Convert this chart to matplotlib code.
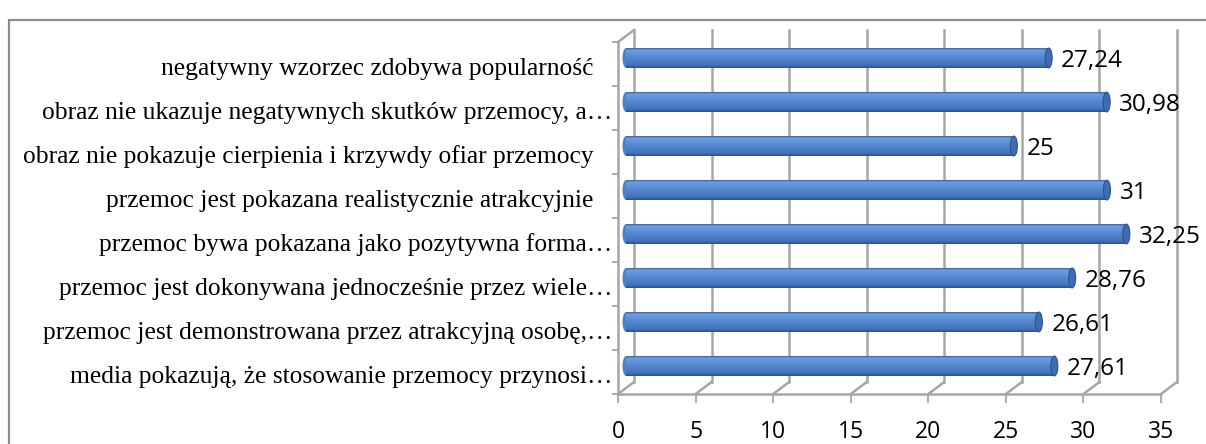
import numpy as np
import matplotlib
matplotlib.use('Agg')
import matplotlib.pyplot as plt
from matplotlib.patches import Ellipse, Rectangle
from matplotlib.colors import LinearSegmentedColormap

# kategorie od góry do dołu
kategorie = [
    'negatywny wzorzec zdobywa popularność   ',
    'obraz nie ukazuje negatywnych skutków przemocy, a…',
    'obraz nie pokazuje cierpienia i krzywdy ofiar przemocy   ',
    'przemoc jest pokazana realistycznie atrakcyjnie   ',
    'przemoc bywa pokazana jako pozytywna forma…',
    'przemoc jest dokonywana jednocześnie przez wiele…',
    'przemoc jest demonstrowana przez atrakcyjną osobę,…',
    'media pokazują, że stosowanie przemocy przynosi…',
]
wartosci = [27.24, 30.98, 25, 31, 32.25, 28.76, 26.61, 27.61]
os_x = [0, 5, 10, 15, 20, 25, 30, 35]

W, H = 1206, 444
fig = plt.figure(figsize=(W / 100, H / 100), dpi=100)
ax = fig.add_axes([618 / W, (H - 394) / H, (1161 - 618) / W, (394 - 42) / H])

n = len(kategorie)
y = np.arange(n)[::-1]
ax.set_xlim(0, 35)
ax.set_ylim(-0.5, n - 0.5)

# piksele -> jednostki danych
px_x = 35 / (1161 - 618)
px_y = n / (394 - 42)

siatka = '#a6a6a6'
lw = 1.8

# tylna ściana - linie siatki
dx, dy = 16 * px_x, 12 * px_y
for v in os_x:
    ax.plot([v + dx, v + dx], [-0.5 + dy, n - 0.5 + dy], color=siatka, lw=lw, clip_on=False, zorder=1)
    ax.plot([v, v + dx], [-0.5, -0.5 + dy], color=siatka, lw=lw, clip_on=False, zorder=1)
# podłoga i lewa ściana
ax.plot([0, 35], [-0.5, -0.5], color=siatka, lw=lw, clip_on=False, zorder=1)
ax.plot([0, 0], [-0.5, n - 0.5], color=siatka, lw=lw, clip_on=False, zorder=1)
ax.plot([0, dx], [n - 0.5, n - 0.5 + dy], color=siatka, lw=lw, clip_on=False, zorder=1)

for s in ax.spines.values():
    s.set_visible(False)

ax.set_xticks(os_x)
ax.set_xticklabels([str(v) for v in os_x])
ax.tick_params(axis='x', length=6.5, width=1.3, color=siatka, labelsize=16.5, pad=12)
for t in ax.get_xticklabels():
    t.set_fontfamily('Open Sans')

ax.set_yticks([])
ax.set_yticks(np.arange(-0.5, n, 1), minor=True)
ax.tick_params(axis='y', which='minor', length=4.5, width=1.3, color=siatka)
for k, yy in zip(kategorie, y):
    ax.annotate(k, (0, yy), xytext=(-4, -3.5), textcoords='offset points', ha='right', va='center',
                fontsize=18.4, fontfamily='Liberation Serif', annotation_clip=False)

# słupki (walce)
bx, by = 8 * px_x, 6 * px_y
h = 0.45
cap = 3.5 * px_x
cmap = LinearSegmentedColormap.from_list('walec', [
    (0.0, '#3f669c'), (0.1, '#6c9de2'), (0.45, '#5789d2'),
    (0.85, '#4273ba'), (1.0, '#2e538d')])
grad = np.linspace(0, 1, 64).reshape(-1, 1)

bary = ax.barh(y + by, wartosci, height=h, left=bx, color='#4f81bd', zorder=3)
for p, v, yy in zip(bary.patches, wartosci, y):
    ax.add_patch(Ellipse((bx, yy + by), 2 * cap, h, facecolor='#4f81c8', edgecolor='none', zorder=2.9))
    im = ax.imshow(grad, extent=[bx, bx + v, yy + by - h / 2, yy + by + h / 2], origin='upper',
                   aspect='auto', cmap=cmap, zorder=3.1)
    im.set_clip_path(p)
    ax.add_patch(Ellipse((bx + v, yy + by), 2 * cap, h, facecolor='#3f6db3', edgecolor='#2d5190', lw=0.8, zorder=3.2))
    ax.annotate(f'{v:g}'.replace('.', ','), (bx + v, yy + by), xytext=(9, -2.5), textcoords='offset points',
                ha='left', va='center', fontsize=17.5, fontfamily='Open Sans', color='black', zorder=4)

ax.set_xlim(0, 35)
ax.set_ylim(-0.5, n - 0.5)

fig.add_artist(Rectangle((8.5 / W, -0.2), 1.5, (H - 20) / H + 0.2, transform=fig.transFigure,
                         fill=False, edgecolor='#8c8c8c', lw=1.6))

fig.savefig('out.png', dpi=100)
